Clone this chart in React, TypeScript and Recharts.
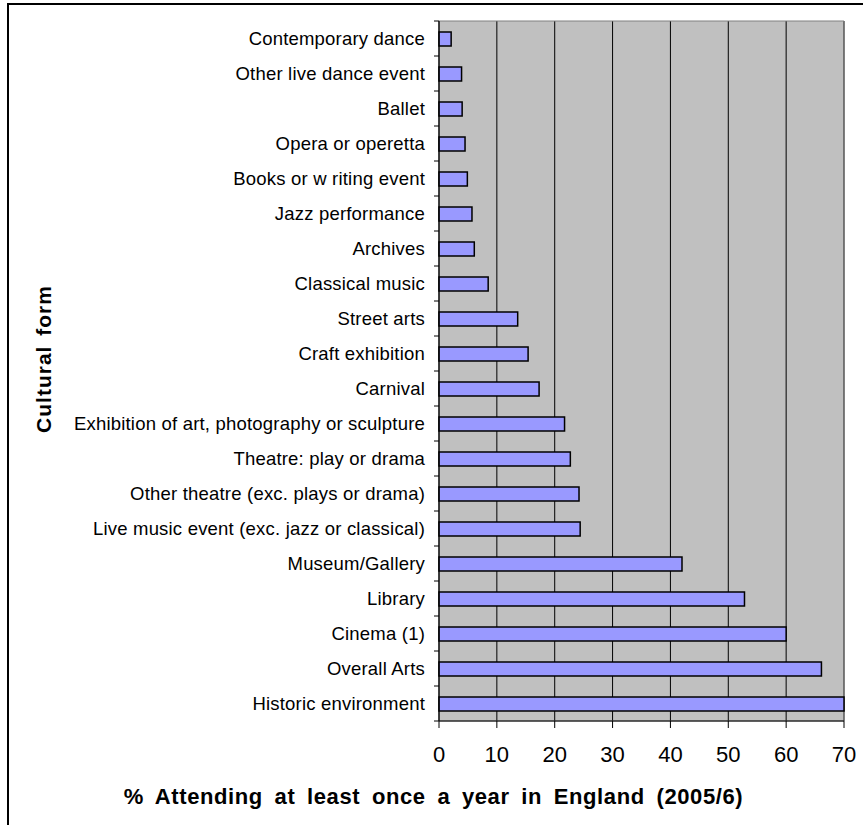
import React from "react";
import {
  BarChart,
  Bar,
  XAxis,
  YAxis,
  CartesianGrid,
  ReferenceArea,
} from "recharts";

const CATEGORIES = [
  "Contemporary dance",
  "Other live dance event",
  "Ballet",
  "Opera or operetta",
  "Books or w riting event",
  "Jazz performance",
  "Archives",
  "Classical music",
  "Street arts",
  "Craft exhibition",
  "Carnival",
  "Exhibition of art, photography or sculpture",
  "Theatre: play or drama",
  "Other theatre (exc. plays or drama)",
  "Live music event (exc. jazz or classical)",
  "Museum/Gallery",
  "Library",
  "Cinema (1)",
  "Overall Arts",
  "Historic environment",
];

const ATTENDANCE = [
  2.1, 3.9, 4.0, 4.5, 4.9, 5.7, 6.1, 8.5, 13.6, 15.4, 17.3, 21.7, 22.7, 24.2,
  24.4, 42.0, 52.8, 60.0, 66.1, 70.0,
];

const X_TICKS = [0, 10, 20, 30, 40, 50, 60, 70];

const data = CATEGORIES.map((name, i) => ({ name, value: ATTENDANCE[i] }));

const W = 863;
const H = 825;
const MARGIN = { top: 21, right: 19, left: 0, bottom: 0 };
const Y_AXIS_W = 439;
const X_AXIS_H = 104;
const BAND = (H - MARGIN.top - X_AXIS_H) / CATEGORIES.length;
const FONT = "'Liberation Sans', Arial, sans-serif";

function CategoryTick(props: any) {
  const { x, y, payload, index } = props;
  return (
    <g>
      <text
        x={x - 14}
        y={y}
        dy="0.35em"
        textAnchor="end"
        fontSize={18.5}
        fontFamily={FONT}
        fill="#000"
        letterSpacing={0.2}
      >
        {payload.value}
      </text>
      <line x1={x - 5} x2={x} y1={y + BAND / 2} y2={y + BAND / 2} stroke="#000" />
      {index === 0 && (
        <line x1={x - 5} x2={x} y1={y - BAND / 2} y2={y - BAND / 2} stroke="#000" />
      )}
    </g>
  );
}

export default function App() {
  return (
    <div
      style={{
        position: "fixed",
        left: 0,
        top: 0,
        width: W,
        height: H,
        background: "#fff",
        overflow: "hidden",
      }}
    >
      <div
        style={{
          position: "absolute",
          left: 7,
          top: 3,
          width: W - 7,
          height: H - 3,
          boxSizing: "border-box",
          borderLeft: "2px solid #000",
          borderTop: "2px solid #000",
        }}
      />
      <div style={{ position: "absolute", left: 0, top: 0 }}>
        <BarChart
          width={W}
          height={H}
          data={data}
          layout="vertical"
          margin={MARGIN}
          barSize={14}
        >
          <CartesianGrid
            horizontal={false}
            stroke="#000"
            fill="#C0C0C0"
            fillOpacity={1}
          />
          <XAxis
            type="number"
            domain={[0, 70]}
            ticks={X_TICKS}
            interval={0}
            height={X_AXIS_H}
            tickSize={7}
            tickMargin={18}
            axisLine={{ stroke: "#000" }}
            tickLine={{ stroke: "#000" }}
            tick={{ fill: "#000", fontSize: 22, fontFamily: FONT }}
          />
          <YAxis
            type="category"
            dataKey="name"
            width={Y_AXIS_W}
            interval={0}
            tickSize={0}
            tickMargin={0}
            tickLine={false}
            axisLine={{ stroke: "#000" }}
            tick={<CategoryTick />}
          />
          <ReferenceArea
            x1={0}
            x2={70}
            stroke="#808080"
            strokeWidth={1}
            fill="none"
            fillOpacity={0}
          />
          <Bar
            dataKey="value"
            fill="#9999FF"
            stroke="#000"
            strokeWidth={1.5}
            isAnimationActive={false}
          />
        </BarChart>
      </div>
      <div
        style={{
          position: "absolute",
          left: 0,
          width: 867,
          top: 786,
          textAlign: "center",
          fontFamily: FONT,
          fontWeight: "bold",
          fontSize: 22,
          lineHeight: "22px",
          letterSpacing: 0.6,
          wordSpacing: 5,
          whiteSpace: "nowrap",
        }}
      >
        % Attending at least once a year in England (2005/6)
      </div>
      <div
        style={{
          position: "absolute",
          left: 42.5,
          top: 359,
          transform: "translate(-50%, -50%) rotate(-90deg)",
          fontFamily: FONT,
          fontWeight: "bold",
          fontSize: 21,
          lineHeight: "21px",
          letterSpacing: 1,
          wordSpacing: 3,
          whiteSpace: "nowrap",
        }}
      >
        Cultural form
      </div>
    </div>
  );
}
